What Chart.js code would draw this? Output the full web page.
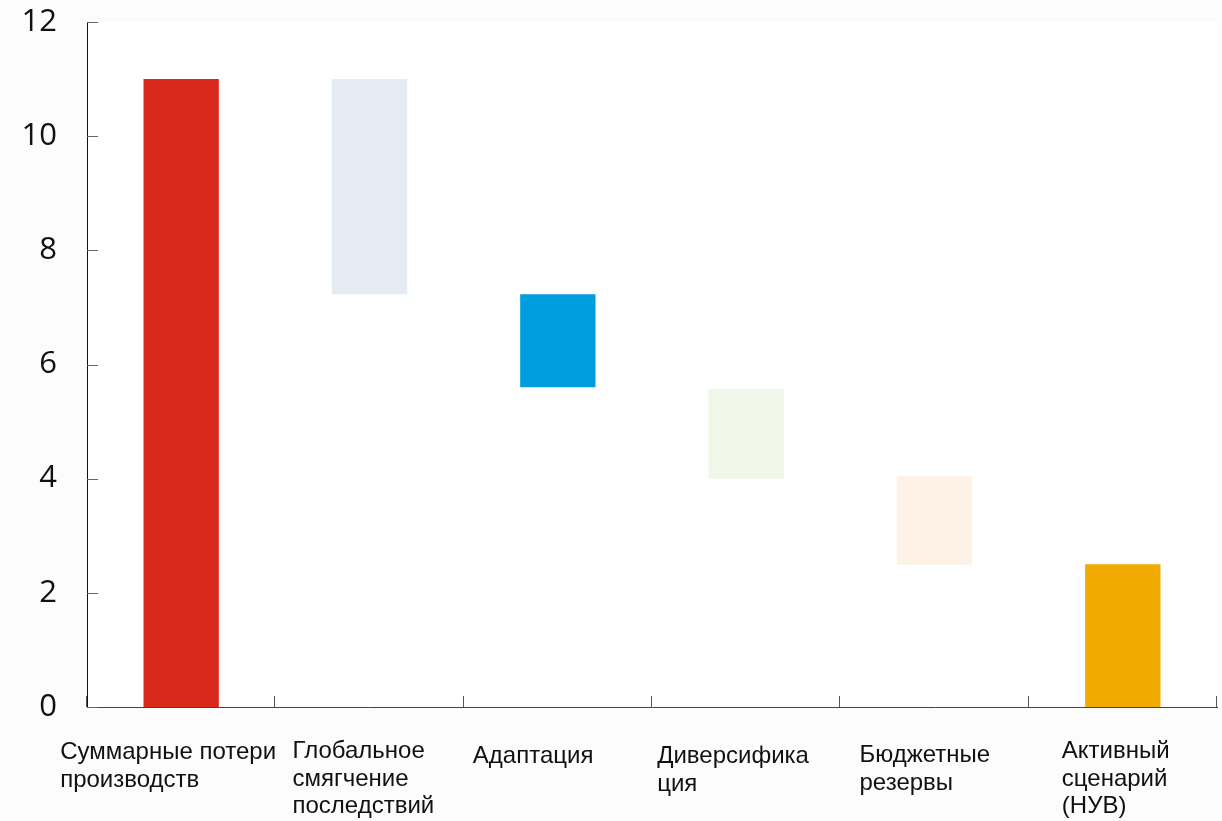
<!DOCTYPE html>
<html>
<head>
<meta charset="utf-8">
<script src="https://cdn.jsdelivr.net/npm/chart.js@4/dist/chart.umd.min.js"></script>
<style>
  html, body { margin: 0; padding: 0; background: #fcfcfc; }
  #wrap { width: 1222px; height: 821px; }
</style>
</head>
<body>
<div id="wrap"><canvas id="c" width="1222" height="821"></canvas></div>
<script>
// ---- data ----
const categories = [
  ["Суммарные потери", "производств"],
  ["Глобальное", "смягчение", "последствий"],
  ["Адаптация"],
  ["Диверсифика", "ция"],
  ["Бюджетные", "резервы"],
  ["Активный", "сценарий", "(НУВ)"]
];
const barStart = [0, 7.23, 5.60, 4.00, 2.49, 0];
const barEnd   = [11.0, 11.0, 7.23, 5.57, 4.05, 2.50];
const yTicks   = [0, 2, 4, 6, 8, 10, 12];

// ---- styles ----
const barColors = ["#DA291C", "#E4EBF3", "#009DDE", "#F0F6E8", "#FEF2E7", "#F0AA00"];
const labelDx = [-121, -77, -85, -89, -75, -61];
const labelBaseline = [759, 758, 763, 763, 762, 758];
const labelLineHeight = 27.5;

const ranges = barStart.map((s, i) => [s, barEnd[i]]);

const decor = {
  id: 'decor',
  beforeDraw(chart) {
    const { ctx, chartArea: a } = chart;
    ctx.save();
    ctx.fillStyle = '#ffffff';
    ctx.fillRect(a.left, a.top, a.right - a.left, a.bottom - a.top);
    ctx.restore();
  },
  afterDraw(chart) {
    const { ctx, chartArea: a, scales } = chart;
    const x = scales.x, y = scales.y;
    ctx.save();
    // inward y ticks
    ctx.strokeStyle = '#666';
    ctx.lineWidth = 1;
    y.ticks.forEach(t => {
      const py = Math.round(y.getPixelForValue(t.value)) + 0.5;
      ctx.beginPath();
      ctx.moveTo(a.left, py);
      ctx.lineTo(a.left + 11, py);
      ctx.stroke();
    });
    // x boundary ticks
    ctx.strokeStyle = '#555';
    const n = categories.length;
    for (let i = 0; i <= n; i++) {
      let px;
      if (i === 0) px = a.left;
      else if (i === n) px = a.right;
      else px = (x.getPixelForValue(i - 1) + x.getPixelForValue(i)) / 2;
      px = Math.round(px) - 0.5;
      ctx.beginPath();
      ctx.moveTo(px, a.bottom);
      ctx.lineTo(px, a.bottom - 11);
      ctx.stroke();
    }
    // x labels, left aligned blocks
    ctx.fillStyle = '#111';
    ctx.font = '24px "Liberation Sans", Arial, sans-serif';
    ctx.textAlign = 'left';
    ctx.textBaseline = 'alphabetic';
    categories.forEach((lines, i) => {
      const cx = x.getPixelForValue(i) + labelDx[i];
      lines.forEach((ln, j) => {
        ctx.fillText(ln, cx, labelBaseline[i] + j * labelLineHeight);
      });
    });
    ctx.restore();
  }
};

new Chart(document.getElementById('c'), {
  type: 'bar',
  data: {
    labels: categories.map(l => l.join(' ')),
    datasets: [{
      data: ranges,
      backgroundColor: barColors,
      borderWidth: 0,
      barPercentage: 0.4,
      categoryPercentage: 1.0
    }]
  },
  options: {
    responsive: false,
    animation: false,
    devicePixelRatio: 1,
    layout: { padding: { top: 22, right: 5, left: 0, bottom: 0 } },
    plugins: { legend: { display: false }, tooltip: { enabled: false } },
    scales: {
      x: {
        offset: true,
        grid: { display: false },
        border: { display: true, color: '#444', width: 1 },
        ticks: { display: false },
        afterFit(s) { s.height = 114; s.paddingLeft = 0; s.paddingRight = 0; }
      },
      y: {
        min: 0, max: 12,
        afterBuildTicks(s) { s.ticks = yTicks.map(v => ({ value: v })); },
        grid: { display: false, drawTicks: false },
        border: { display: true, color: '#111', width: 1 },
        ticks: {
          padding: 30,
          color: '#111',
          font: { family: '"Open Sans", "Noto Sans", sans-serif', size: 31 }
        },
        afterFit(s) { s.width = 87; s.paddingTop = 0; s.paddingBottom = 0; }
      }
    }
  },
  plugins: [decor]
});
</script>
</body>
</html>
